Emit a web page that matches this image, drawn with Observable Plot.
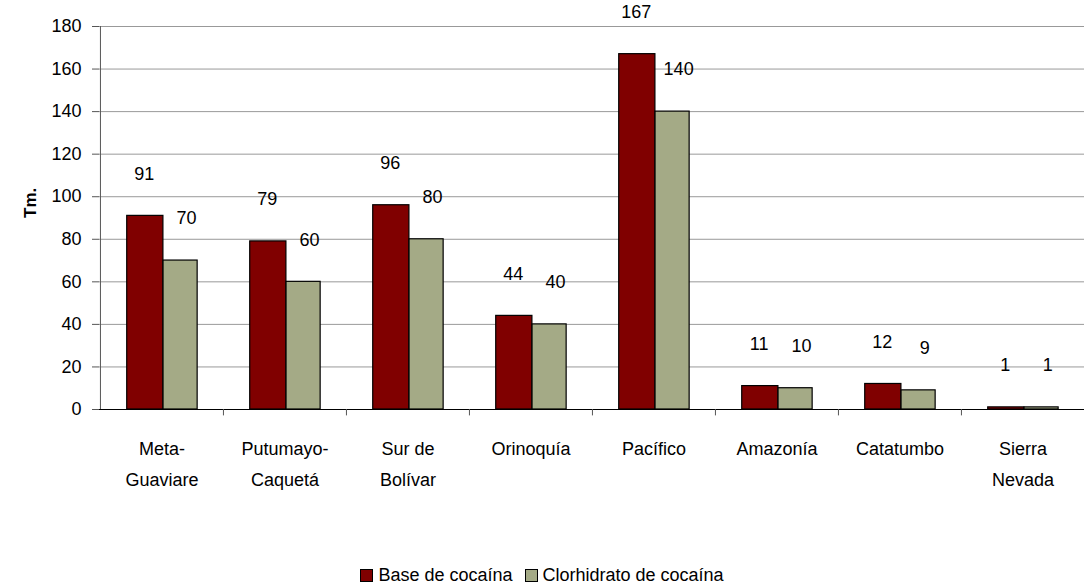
<!DOCTYPE html>
<html><head><meta charset="utf-8">
<script src="https://cdn.jsdelivr.net/npm/d3@7"></script>
<script src="https://cdn.jsdelivr.net/npm/@observablehq/plot@0.6"></script>
<style>
body{margin:0;background:#fff;font-family:"Liberation Sans Narrow","Arial Narrow","Liberation Sans",Arial,sans-serif;}
#legend{display:flex;justify-content:center;align-items:center;gap:12px;font-size:18px;color:#000;height:32px;padding-top:4px;}
#legend span.sw{display:inline-block;width:11px;height:11px;border:1px solid #000;margin-right:5px;vertical-align:middle;}
</style></head>
<body>
<div id="chart"></div>
<div id="legend"></div>
<script>
const regions = ["Meta-\nGuaviare", "Putumayo-\nCaquetá", "Sur de\nBolívar", "Orinoquía", "Pacífico", "Amazonía", "Catatumbo", "Sierra\nNevada"];
const base = [91, 79, 96, 44, 167, 11, 12, 1];
const clor = [70, 60, 80, 40, 140, 10, 9, 1];
const series = ["Base de cocaína", "Clorhidrato de cocaína"];
const colors = ["#800000", "#a4aa86"];
const yTicks = [0, 20, 40, 60, 80, 100, 120, 140, 160, 180];

const W = 1084, H = 555, ML = 99, MR = 0, MT = 26, MB = 146;
const bw = (W - ML - MR) / regions.length;
const font = '"Liberation Sans Narrow","Arial Narrow","Liberation Sans",Arial,sans-serif';

const baseData = regions.map((r, i) => ({region: r, value: base[i]}));
const clorData = regions.map((r, i) => ({region: r, value: clor[i]}));

const chart = Plot.plot({
  width: W, height: H,
  marginLeft: ML, marginRight: MR, marginTop: MT, marginBottom: MB,
  style: {fontFamily: font, fontSize: "18px", color: "#000", background: "#fff"},
  x: {domain: regions, padding: 0, axis: null},
  y: {domain: [0, 180], ticks: yTicks, axis: null},
  marks: [
    Plot.gridY(yTicks, {stroke: "#999", strokeOpacity: 1}),
    Plot.axisY(yTicks, {tickSize: 7, tickPadding: 11, fontSize: 18, label: null, stroke: "#555"}),
    Plot.barY(baseData, {x: "region", y: "value", fill: colors[0], stroke: "#000", strokeWidth: 1.2,
      insetLeft: bw * 0.217, insetRight: bw * 0.488}),
    Plot.barY(clorData, {x: "region", y: "value", fill: colors[1], stroke: "#000", strokeWidth: 1.2,
      insetLeft: bw * 0.512, insetRight: bw * 0.21}),
    Plot.ruleY([0], {stroke: "#000"}),
    Plot.ruleX([regions[0]], {x: d => d, y1: 0, y2: 180, dx: -bw / 2, stroke: "#555"}),
    Plot.ruleX(regions.slice(1), {x: d => d, y1: 0, y2: -3, dx: -bw / 2, stroke: "#555"}),
    Plot.text(baseData, {x: "region", y: "value", text: d => String(d.value), dx: -bw * 0.145, dy: -42, fontSize: 18}),
    Plot.text(clorData, {x: "region", y: "value", text: d => String(d.value), dx: bw * 0.2, dy: -42, fontSize: 18}),
    Plot.text(regions, {x: d => d, text: d => d, frameAnchor: "bottom", lineAnchor: "top", dy: 24, lineHeight: 1.7, fontSize: 18}),
    Plot.text(["Tm."], {frameAnchor: "left", dx: -69, rotate: -90, fontWeight: "bold", fontSize: 17})
  ]
});
document.getElementById("chart").appendChild(chart);

const legend = document.getElementById("legend");
series.forEach((s, i) => {
  const item = document.createElement("div");
  item.innerHTML = `<span class="sw" style="background:${colors[i]}"></span>${s}`;
  legend.appendChild(item);
});
</script>
</body></html>
